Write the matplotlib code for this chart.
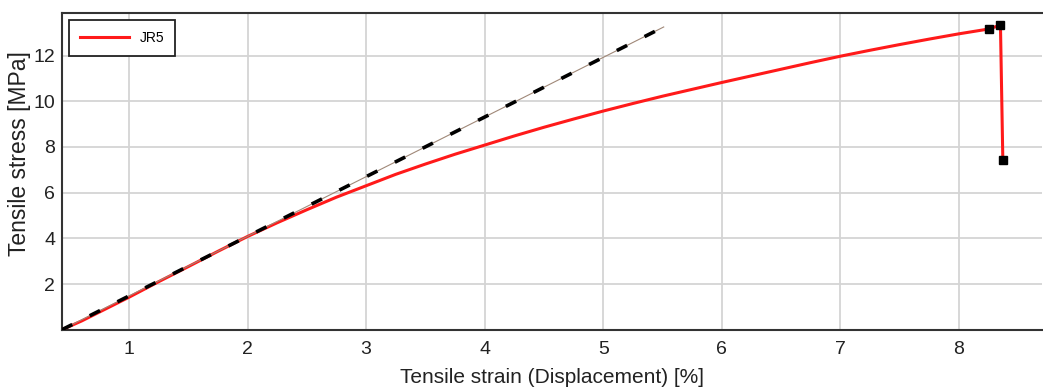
import matplotlib.pyplot as plt
import numpy as np

plt.rcParams['font.family'] = ['Liberation Sans', 'DejaVu Sans']

# JR5 tensile curve
strain = [0.435, 0.6, 0.8, 1.0, 1.25, 1.5, 1.75, 2.0, 2.25, 2.5, 2.75, 3.0,
          3.25, 3.5, 3.75, 4.0, 4.25, 4.5, 4.75, 5.0, 5.25, 5.5, 5.75, 6.0,
          6.25, 6.5, 6.75, 7.0, 7.25, 7.5, 7.75, 8.0, 8.25, 8.35, 8.37]
stress = [0.0, 0.38, 0.9, 1.42, 2.1, 2.76, 3.43, 4.08, 4.68, 5.25, 5.8, 6.3,
          6.8, 7.25, 7.68, 8.08, 8.48, 8.86, 9.22, 9.57, 9.9, 10.22, 10.52, 10.82,
          11.11, 11.4, 11.69, 11.97, 12.23, 12.48, 12.72, 12.95, 13.16, 13.33, 7.43]

# marked points at the end of the test
mark_x = [8.25, 8.35, 8.37]
mark_y = [13.16, 13.33, 7.43]

# linear (modulus) fit
fit_x = [0.435, 5.51]
fit_y = [0.0, 13.25]

fig = plt.figure(figsize=(10.43, 3.9), dpi=100)
ax = fig.add_axes([0.0594, 0.1546, 0.9396, 0.812])

ax.plot(strain, stress, color='#ff1a1a', lw=2.2, label='JR5', zorder=3)
ax.plot(mark_x, mark_y, 's', color='black', ms=6, zorder=4)
ax.plot(fit_x, fit_y, color='#a08878', lw=0.8, zorder=4)
ax.plot(fit_x, fit_y, color='black', lw=2.6, dashes=(3.2, 5.4), zorder=5)

ax.set_xlim(0.435, 8.70)
ax.set_ylim(0, 13.86)
ax.set_xticks([1, 2, 3, 4, 5, 6, 7, 8])
ax.set_yticks([2, 4, 6, 8, 10, 12])
ax.grid(True, color='#d4d4d4', lw=1.3)
ax.set_axisbelow(True)
ax.tick_params(length=0, labelsize=14, colors='#222222', pad=5)
ax.tick_params(axis='x', pad=8)

for side in ['left', 'bottom', 'top']:
    ax.spines[side].set_color('#333333')
    ax.spines[side].set_linewidth(1.5)
ax.spines['right'].set_visible(False)

ax.set_xlabel('Tensile strain (Displacement) [%]', fontsize=15, color='#222222', labelpad=7)
ax.set_ylabel('Tensile stress [MPa]', fontsize=16.5, color='#222222')
ax.yaxis.set_label_coords(-0.032, 0.555)

leg = ax.legend(loc='upper left', fontsize=10, fancybox=False, framealpha=1,
                edgecolor='#222222', borderpad=0.8, handlelength=3.5, borderaxespad=0.5)
leg.get_frame().set_linewidth(1.3)

fig.savefig('out.png', dpi=100)
